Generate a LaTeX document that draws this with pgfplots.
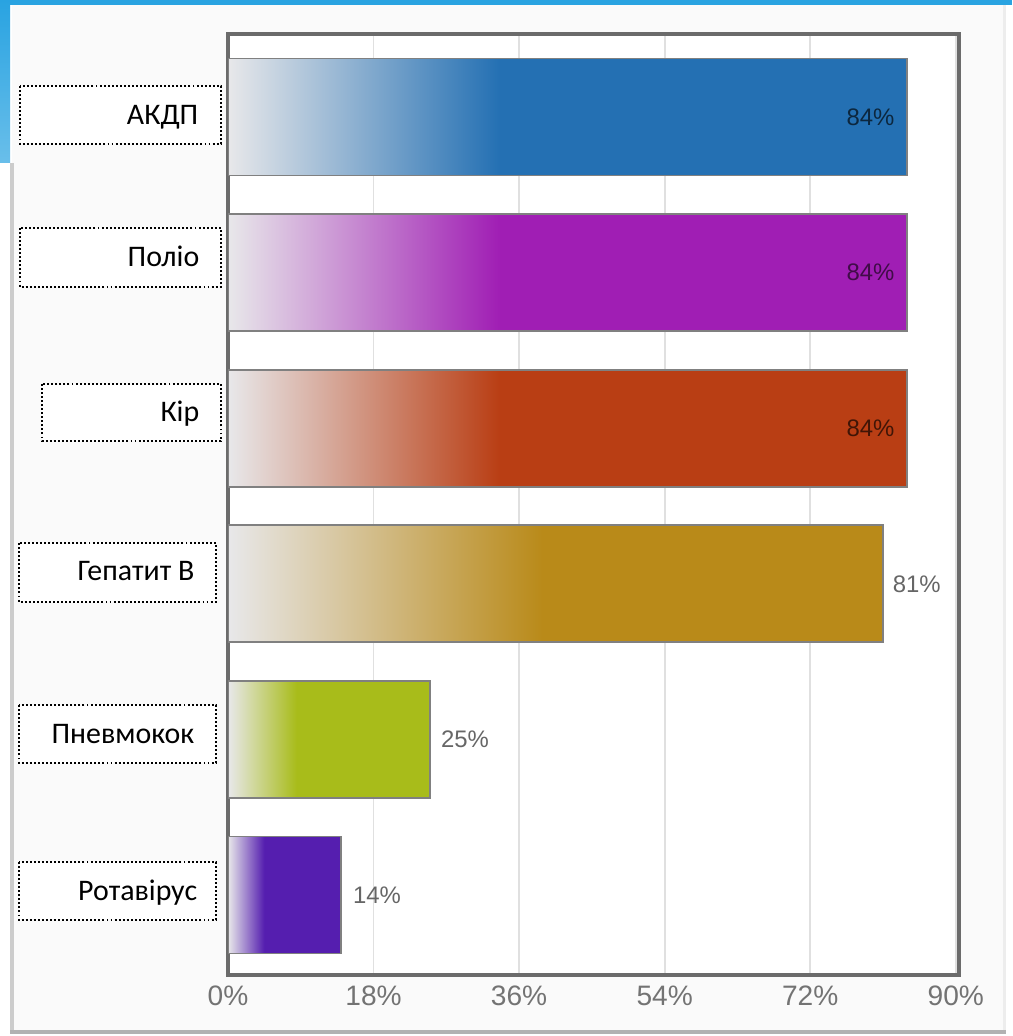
\documentclass[border=0pt]{standalone}
\usepackage{pgfplots}
\pgfplotsset{compat=1.18}
\usepackage{fontspec}
\setmainfont{Liberation Sans}
\newfontfamily\carlito{Carlito}
\definecolor{cA}{HTML}{2470B3}
\definecolor{cB}{HTML}{A01EB4}
\definecolor{cC}{HTML}{B93E14}
\definecolor{cD}{HTML}{B98A19}
\definecolor{cE}{HTML}{A8BC1A}
\definecolor{cF}{HTML}{551EAF}
\definecolor{lgt}{HTML}{E8E8EA}
\definecolor{borderblue}{HTML}{29A3E1}
\definecolor{panel}{HTML}{FAFAFA}
\pgfdeclarehorizontalshading{shA}{100bp}{color(0bp)=(lgt); color(25bp)=(lgt); color(45bp)=(cA); color(100bp)=(cA)}
\pgfdeclarehorizontalshading{shB}{100bp}{color(0bp)=(lgt); color(25bp)=(lgt); color(45bp)=(cB); color(100bp)=(cB)}
\pgfdeclarehorizontalshading{shC}{100bp}{color(0bp)=(lgt); color(25bp)=(lgt); color(45bp)=(cC); color(100bp)=(cC)}
\pgfdeclarehorizontalshading{shD}{100bp}{color(0bp)=(lgt); color(25bp)=(lgt); color(49bp)=(cD); color(100bp)=(cD)}
\pgfdeclarehorizontalshading{shE}{100bp}{color(0bp)=(lgt); color(25bp)=(lgt); color(42bp)=(cE); color(100bp)=(cE)}
\pgfdeclarehorizontalshading{shF}{100bp}{color(0bp)=(lgt); color(25bp)=(lgt); color(41bp)=(cF); color(100bp)=(cF)}
\begin{document}
\begin{tikzpicture}
\begin{scope}[x=0.1mm,y=0.1mm]
\useasboundingbox (0,0) rectangle (1012,1036);
\fill[white] (0,0) rectangle (1012,1036);
\fill[panel] (12,4) rectangle (1005,1031);
\fill[borderblue] (0,1031) rectangle (1012,1036);
\shade[top color=borderblue, bottom color=borderblue!70] (0,873) rectangle (10,1036);
\fill[black!20] (10,2) rectangle (14,873);
\fill[black!30] (10,2) rectangle (1006,6);
\fill[black!7] (1003,6) rectangle (1006,1031);
\end{scope}
\begin{axis}[at={(22.8mm,6.1mm)}, anchor=south west, scale only axis,
  width=73.1mm, height=94.1mm,
  xmin=0, xmax=90.4, ymin=-0.514, ymax=5.533,
  xtick={0,18,36,54,72,90},
  xticklabel={\pgfmathprintnumber{\tick}\%},
  ytick=\empty,
  major tick length=0pt,
  xmajorgrids, grid style={black!12, line width=0.5pt},
  axis line style={draw=black!58, line width=1pt},
  axis background/.style={fill=white},
  xticklabel style={font=\fontsize{8}{9}\selectfont, text=black!55, inner sep=0pt, yshift=-1mm},
  /pgf/number format/assume math mode=true,
  xbar,
]
\addplot[xbar, bar shift=0pt, bar width=11.7mm, draw=black!50, line width=0.5pt, shade, shading=shA,
  nodes near coords={84\%}, every node near coord/.append style={anchor=east, inner sep=0pt, xshift=-1.2mm, font=\fontsize{6.8}{8}\selectfont, text=black, text opacity=0.65}]
  coordinates {(84,5)};
\addplot[xbar, bar shift=0pt, bar width=11.7mm, draw=black!50, line width=0.5pt, shade, shading=shB,
  nodes near coords={84\%}, every node near coord/.append style={anchor=east, inner sep=0pt, xshift=-1.2mm, font=\fontsize{6.8}{8}\selectfont, text=black, text opacity=0.6}]
  coordinates {(84,4)};
\addplot[xbar, bar shift=0pt, bar width=11.7mm, draw=black!50, line width=0.5pt, shade, shading=shC,
  nodes near coords={84\%}, every node near coord/.append style={anchor=east, inner sep=0pt, xshift=-1.2mm, font=\fontsize{6.8}{8}\selectfont, text=black, text opacity=0.65}]
  coordinates {(84,3)};
\addplot[xbar, bar shift=0pt, bar width=11.7mm, draw=black!50, line width=0.5pt, shade, shading=shD,
  nodes near coords={81\%}, every node near coord/.append style={anchor=west, inner sep=0pt, xshift=0.9mm, font=\fontsize{6.8}{8}\selectfont, text=black!60}]
  coordinates {(81,2)};
\addplot[xbar, bar shift=0pt, bar width=11.7mm, draw=black!50, line width=0.5pt, shade, shading=shE,
  nodes near coords={25\%}, every node near coord/.append style={anchor=west, inner sep=0pt, xshift=1mm, font=\fontsize{6.8}{8}\selectfont, text=black!60}]
  coordinates {(25,1)};
\addplot[xbar, bar shift=0pt, bar width=11.7mm, draw=black!50, line width=0.5pt, shade, shading=shF,
  nodes near coords={14\%}, every node near coord/.append style={anchor=west, inner sep=0pt, xshift=1.1mm, font=\fontsize{6.8}{8}\selectfont, text=black!60}]
  coordinates {(14,0)};
\end{axis}
\begin{scope}[x=0.1mm,y=0.1mm, lbl/.style={anchor=base east, inner sep=0pt, font=\carlito\fontsize{8.5}{10}\selectfont}, bx/.style={draw=black, fill=white, line width=0.55pt, dash pattern=on 0.55pt off 0.6pt}]
\draw[bx] (20,950) rectangle (221,892);
\node[lbl] at (199,911.5) {АКДП};
\draw[bx] (20,808) rectangle (221,749);
\node[lbl] at (200,769.5) {Поліо};
\draw[bx] (42,652) rectangle (221,595);
\node[lbl] at (200,614.5) {Кір};
\draw[bx] (19,493) rectangle (216,434);
\node[lbl] at (195,455) {Гепатит В};
\draw[bx] (19,331) rectangle (216,273);
\node[lbl] at (195,292.5) {Пневмокок};
\draw[bx] (19,174) rectangle (216,116);
\node[lbl] at (198,135.5) {Ротавірус};
\end{scope}
\end{tikzpicture}
\end{document}
